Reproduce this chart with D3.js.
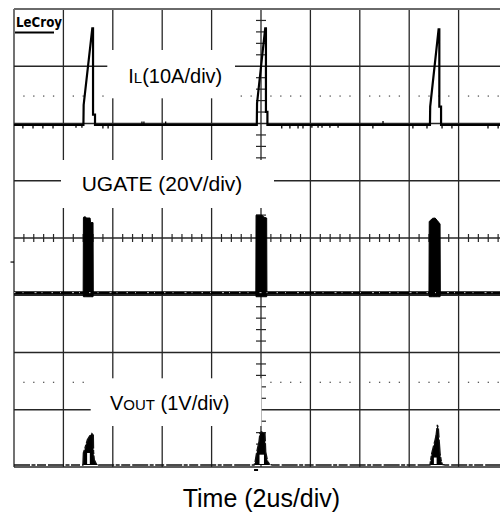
<!DOCTYPE html>
<html>
<head>
<meta charset="utf-8">
<script src="https://cdn.jsdelivr.net/npm/d3@7"></script>
<style>
  html, body { margin: 0; padding: 0; background: #fff; }
  svg { display: block; }
  text { font-family: "Liberation Sans", Arial, Helvetica, sans-serif; fill: #000; }
</style>
</head>
<body>
<svg id="scope" width="500" height="513"></svg>
<script>
// Horizontal time base: 10 divisions of 2 us; vertical: 8 divisions.
const timeDomainUs = [0, 20];
const timePerDivUs = 2;
const divisionsY = [-4, 4];

// Inductor current IL, 10 A/div
const ilTime = [0, 2.81, 2.82, 3.17, 3.20, 3.20, 3.28, 3.28, 9.83, 9.84, 10.17, 10.20, 10.20, 10.26, 10.26, 16.84, 16.85, 17.19, 17.22, 17.22, 17.29, 17.29, 20];
const ilAmps = [0, 0, 3.5, 16.9, 16.9, 1.8, 1.8, 0, 0, 3.8, 16.9, 16.9, 2.3, 2.3, 0, 0, 3.2, 16.7, 16.7, 3.2, 3.2, 0, 0];
// Short noise spikes on the IL baseline
const ilGlitchTime = [0.36, 0.77, 1.17, 1.58, 2.51, 2.75, 3.60, 3.81, 5.18, 5.26, 6.14, 10.84, 11.17, 11.50, 11.70, 12.06, 12.31, 12.47, 12.79, 13.12, 14.53, 14.94, 16.15, 16.72, 17.33, 17.73, 19.19, 19.60];
const ilGlitchAmps = [-0.6, -0.6, -0.6, -0.6, -0.5, -0.5, -0.6, -0.6, 0.6, 0.6, 0.6, -0.6, -0.6, -0.6, -0.6, -0.5, -0.5, -0.5, -0.5, -0.5, -0.6, 0.7, -0.6, -0.6, -0.6, -0.6, -0.6, -0.6];

// Upper gate drive UGATE, 20 V/div (burst envelope: high / low)
const ugateTime = [0, 2.80, 2.81, 2.83, 2.90, 2.92, 3.08, 3.10, 3.20, 3.21, 9.79, 9.80, 10.04, 10.12, 10.23, 10.24, 16.80, 16.81, 16.95, 17.05, 17.14, 17.25, 17.26, 20];
const ugateHigh = [0, 0, 26.2, 26.6, 26.6, 26.2, 26.2, 24.6, 24.6, 0, 0, 27.2, 27.2, 26.5, 26.2, 0, 0, 25.0, 26.1, 26.2, 25.3, 24.1, 0, 0];
const ugateLow = [0, 0, -1.3, -1.3, -1.3, -1.3, -1.3, -1.3, -1.3, 0, 0, -1.3, -1.3, -1.3, -1.3, 0, 0, -1.3, -1.3, -1.3, -1.3, -1.3, 0, 0];

// Output voltage VOUT, 1 V/div
const voutTime = [0, 2.79, 2.81, 2.87, 2.97, 3.08, 3.15, 3.21, 3.22, 3.25, 3.32, 3.41, 9.72, 9.76, 9.83, 9.92, 9.96, 10.02, 10.16, 10.19, 10.27, 10.36, 10.45, 16.84, 16.91, 16.98, 17.05, 17.09, 17.14, 17.18, 17.21, 17.25, 17.29, 17.34, 17.45, 20];
const voutVolts = [0, 0, 0.21, 0.29, 0.44, 0.52, 0.55, 0.52, 0.23, 0.09, 0.03, 0, 0, 0.05, 0.23, 0.41, 0.56, 0.58, 0.55, 0.23, 0.06, 0.01, 0, 0, 0.20, 0.32, 0.44, 0.52, 0.70, 0.64, 0.44, 0.20, 0.09, 0.01, 0, 0];
// Open gaps inside each VOUT spike
const voutNotchStart = [2.96, 9.94, 17.00];
const voutNotchEnd = [3.07, 10.12, 17.11];
const voutNotchTop = [0.21, 0.18, 0.13];

// Channel labels and the time-base caption
const labelIL = ["I", "L", "(10A/div)"];
const labelUgate = "UGATE (20V/div)";
const labelVout = ["V", "OUT", " (1V/div)"];
const captionTime = "Time (2us/div)";
const brand = "LeCroy";

const svg = d3.select("#scope");

// Graticule geometry
const gridLeft = 14, gridTop = 9, divW = 49.4, divH = 57.25;
const x = d3.scaleLinear().domain(timeDomainUs).range([gridLeft, gridLeft + 10 * divW]);
const yDiv = d3.scaleLinear().domain(divisionsY).range([gridTop + 8 * divH, gridTop]);

// Each channel has its own position (in divisions) and sensitivity
function channelScale(offsetDiv, perDiv) {
  return d3.scaleLinear()
    .domain([(divisionsY[0] - offsetDiv) * perDiv, (divisionsY[1] - offsetDiv) * perDiv])
    .range(yDiv.range());
}
const yIL = channelScale(1.974, 10);
const yUgate = channelScale(-0.961, 20);
const yVout = channelScale(-3.965, 1);

const gridColor = "#262626";

// Major graticule lines
const grid = svg.append("g");
const majorTimes = d3.range(timeDomainUs[0], timeDomainUs[1] + 0.001, timePerDivUs);
grid.selectAll("line.v").data(majorTimes).join("line")
  .attr("x1", d => x(d)).attr("x2", d => x(d))
  .attr("y1", yDiv(4)).attr("y2", yDiv(-4))
  .attr("stroke", gridColor).attr("stroke-width", 1.3);
grid.selectAll("line.h").data(d3.range(-4, 4.001, 1)).join("line")
  .attr("x1", x(0)).attr("x2", x(20))
  .attr("y1", d => yDiv(d)).attr("y2", d => yDiv(d))
  .attr("stroke", d => d === 4 ? "#6a6a6a" : gridColor)
  .attr("stroke-width", d => d === 4 ? 1.8 : 1.3);

// Minor tick marks on the centre cross
const minorTimes = d3.range(0, 20.001, timePerDivUs / 5).filter(t => Math.abs(t / timePerDivUs - Math.round(t / timePerDivUs)) > 1e-6);
grid.selectAll("line.tx").data(minorTimes).join("line")
  .attr("x1", d => x(d)).attr("x2", d => x(d))
  .attr("y1", yDiv(0) - 4).attr("y2", yDiv(0) + 4)
  .attr("stroke", gridColor).attr("stroke-width", 1.2);
const minorDivs = d3.range(-4, 4.001, 0.2).filter(d => Math.abs(d - Math.round(d)) > 1e-6);
grid.selectAll("line.ty").data(minorDivs).join("line")
  .attr("x1", x(10) - 5).attr("x2", x(10) + 5)
  .attr("y1", d => yDiv(d)).attr("y2", d => yDiv(d))
  .attr("stroke", gridColor).attr("stroke-width", 1.2);

// Dotted reference rows
const dotRows = [2.48, -2.52];
const dots = [];
dotRows.forEach(r => minorTimes.forEach(t => dots.push({ t, r })));
grid.selectAll("rect.dot").data(dots).join("rect")
  .attr("x", d => x(d.t) - 0.6).attr("y", d => yDiv(d.r) - 0.6)
  .attr("width", 1.3).attr("height", 1.3).attr("fill", "#555");

// Traces
const traces = svg.append("g");

// IL
traces.append("path")
  .attr("d", d3.line().x((d, i) => x(ilTime[i])).y(d => yIL(d))(ilAmps))
  .attr("fill", "none").attr("stroke", "#000").attr("stroke-width", 2.2)
  .attr("stroke-linejoin", "miter");
traces.selectAll("line.glitch").data(ilGlitchAmps).join("line")
  .attr("x1", (d, i) => x(ilGlitchTime[i])).attr("x2", (d, i) => x(ilGlitchTime[i]))
  .attr("y1", yIL(0)).attr("y2", d => yIL(d))
  .attr("stroke", "#000").attr("stroke-width", 1.3);

// UGATE
traces.append("path")
  .attr("d", d3.area().x((d, i) => x(ugateTime[i])).y0((d, i) => yUgate(ugateLow[i])).y1(d => yUgate(d))(ugateHigh))
  .attr("fill", "#000").attr("stroke", "#000").attr("stroke-width", 1);
traces.append("line")
  .attr("x1", x(0)).attr("x2", x(20))
  .attr("y1", yUgate(0)).attr("y2", yUgate(0))
  .attr("stroke", "#000").attr("stroke-width", 3.6);
traces.append("line")
  .attr("x1", x(0)).attr("x2", x(20))
  .attr("y1", yUgate(0) - 0.4).attr("y2", yUgate(0) - 0.4)
  .attr("stroke", "#fff").attr("stroke-width", 0.8)
  .attr("stroke-dasharray", "1.5,7,1,11,2,5,1,9");

// VOUT
traces.append("path")
  .attr("d", d3.area().x((d, i) => x(voutTime[i])).y0(yVout(0)).y1(d => yVout(d))(voutVolts))
  .attr("fill", "#000");
traces.selectAll("rect.notch").data(voutNotchTop).join("rect")
  .attr("x", (d, i) => x(voutNotchStart[i]))
  .attr("width", (d, i) => x(voutNotchEnd[i]) - x(voutNotchStart[i]))
  .attr("y", d => yVout(d))
  .attr("height", d => yVout(0) - yVout(d) - 1)
  .attr("fill", "#fff");
traces.append("path")
  .attr("d", d3.line().x((d, i) => x(voutTime[i])).y(d => yVout(d))(voutVolts))
  .attr("fill", "none").attr("stroke", "#111").attr("stroke-width", 1.4)
  .attr("stroke-dasharray", "16,1.5,4,1.5,9,2");

// Channel ground marker and trigger marker
svg.append("line").attr("x1", 10.5).attr("x2", x(0)).attr("y1", yDiv(-0.42)).attr("y2", yDiv(-0.42))
  .attr("stroke", "#000").attr("stroke-width", 1.2);
svg.append("rect").attr("x", x(9.8) - 2).attr("y", yDiv(-4) + 2).attr("width", 4).attr("height", 2).attr("fill", "#000");

// Label panels masking the graticule
const panels = [
  { x0: 107.3, x1: 235, y0: 50, y1: 98.3 },
  { x0: 61, x1: 274, y0: 160, y1: 208 },
  { x0: 90.7, x1: 261.5, y0: 378.3, y1: 426 }
];
svg.selectAll("rect.panel").data(panels).join("rect")
  .attr("x", d => d.x0).attr("y", d => d.y0)
  .attr("width", d => d.x1 - d.x0).attr("height", d => d.y1 - d.y0)
  .attr("fill", "#fff");

// Channel labels
const tIL = svg.append("text").attr("x", 128.3).attr("y", 83.3).attr("font-size", 20);
tIL.append("tspan").text(labelIL[0]);
tIL.append("tspan").attr("font-size", 15).text(labelIL[1]);
tIL.append("tspan").text(labelIL[2]);

svg.append("text").attr("x", 81.7).attr("y", 190.8).attr("font-size", 21).text(labelUgate);

const tV = svg.append("text").attr("x", 110).attr("y", 410).attr("font-size", 20);
tV.append("tspan").text(labelVout[0]);
tV.append("tspan").attr("font-size", 15).text(labelVout[1]);
tV.append("tspan").attr("xml:space", "preserve").text(labelVout[2]);

svg.append("text").attr("x", 182.7).attr("y", 507).attr("font-size", 25).text(captionTime);

// Brand mark
svg.append("text").attr("x", 16).attr("y", 27).attr("font-size", 14.5)
  .attr("font-weight", "bold").style("font-family", "'DejaVu Sans Condensed', 'DejaVu Sans', sans-serif")
  .attr("textLength", 46).attr("lengthAdjust", "spacingAndGlyphs")
  .text(brand);
svg.append("line").attr("x1", 15).attr("x2", 54).attr("y1", 32.5).attr("y2", 32.5)
  .attr("stroke", "#000").attr("stroke-width", 1.8);
</script>
</body>
</html>
